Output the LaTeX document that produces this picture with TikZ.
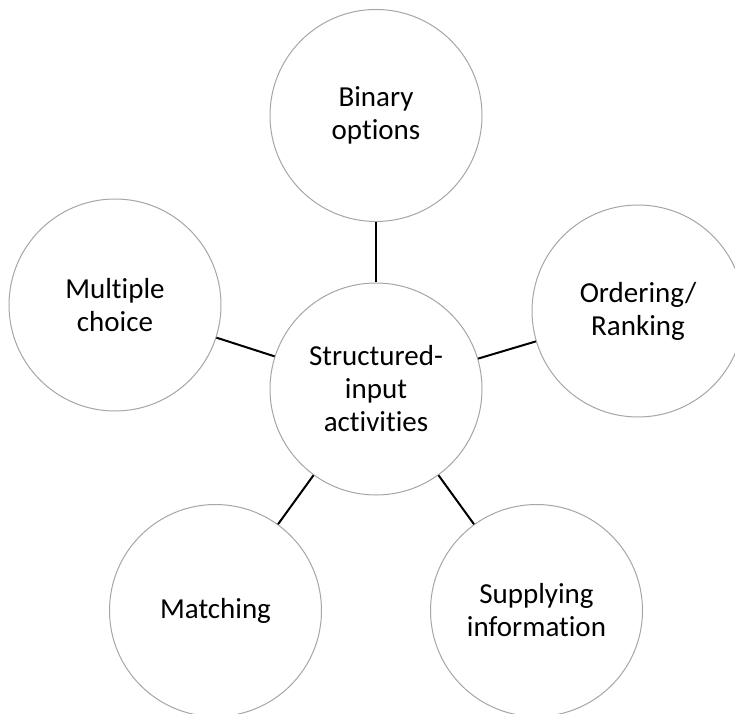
\documentclass[tikz,border=0pt]{standalone}
\usepackage{fontspec}
\setmainfont[Ligatures=NoCommon]{Carlito}
\begin{document}
\begin{tikzpicture}[x=1pt,y=1pt,
  bubble/.style={circle, draw=black!35, line width=1pt, fill=white,
    minimum size=212pt, inner sep=0pt, align=center,
    font=\fontsize{29}{33}\selectfont},
  link/.style={draw=black, line width=2pt}]
\useasboundingbox (0,0) rectangle (735,713);
% hub and spokes
\node[bubble] (hub)  at (376,324)   {Structured-\\input\\activities};
\node[bubble] (bin)  at (376,597.5) {Binary\\options};
\node[bubble] (mult) at (115,408)   {Multiple\\choice};
\node[bubble] (ord)  at (638,402)   {Ordering/\\Ranking};
\node[bubble] (mat)  at (215.5,102.5) {Matching};
\node[bubble] (sup)  at (536.5,102.5) {Supplying\\information};
\foreach \n in {bin,mult,ord,mat,sup}
  \path[link] (hub) -- (\n);
\end{tikzpicture}
\end{document}
